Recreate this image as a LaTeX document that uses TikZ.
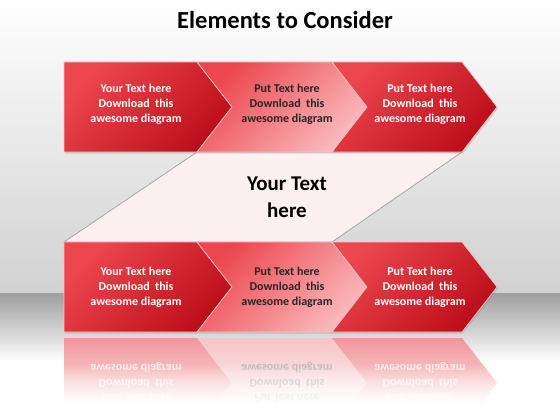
\documentclass[tikz,border=0pt]{standalone}
\usepackage{fontspec}
\setmainfont{Carlito}
\usetikzlibrary{shadows,fadings}

\definecolor{redlight}{RGB}{236,70,78}
\definecolor{reddark}{RGB}{188,14,26}
\definecolor{pinklight}{RGB}{250,186,188}
\definecolor{pinkband}{RGB}{252,240,241}
\definecolor{edgepink}{RGB}{246,196,198}
\definecolor{reflred}{RGB}{240,150,156}
\definecolor{reflpink}{RGB}{246,196,198}

\begin{document}
\begin{tikzpicture}[x=1pt, y=-1pt,
darkbox/.style={top color=redlight, bottom color=reddark, shading angle=45,
  draw=edgepink, line width=0.7pt,
  drop shadow={opacity=0.25, shadow xshift=1pt, shadow yshift=-1.5pt}},
lightbox/.style={top color=redlight, bottom color=pinklight, shading angle=45,
  draw=edgepink, line width=0.7pt,
  drop shadow={opacity=0.25, shadow xshift=1pt, shadow yshift=-1.5pt}},
darkrefl/.style={top color=reflred, bottom color=white},
lightrefl/.style={top color=reflpink, bottom color=white},
boxtext/.style={align=center, font=\fontsize{12}{15}\selectfont\bfseries, text=white},
darktext/.style={boxtext, text=black!85},
refltext/.style={boxtext, yscale=-1, transform shape, text=white, text opacity=0.75},
darkrefltext/.style={refltext, text=black!30},
]
\useasboundingbox (0,0) rectangle (560,420);

% background
\shade[top color=white, bottom color=black!18] (0,0) rectangle (560,293);
\shade[top color=black!38, bottom color=white] (0,293) rectangle (560,362);
\fill[white] (0,362) rectangle (560,420);

% title
\node (title) at (285,20) {\fontsize{24.5}{28}\selectfont\bfseries Elements to Consider};

% band between the rows
\path[fill=pinkband, draw=black!35, line width=0.8pt]
  (197,152) -- (462,152) -- (332,242) -- (64,242) -- cycle;
\node[align=center, font=\fontsize{21}{27}\selectfont\bfseries] (mid) at (287,197) {Your Text\\here};

% top row
\path[darkbox] (64,62) -- (197,62) -- (232,107) -- (197,152) -- (64,152) -- cycle;
\path[lightbox] (197,62) -- (332,62) -- (367,107) -- (332,152) -- (197,152) -- (232,107) -- cycle;
\path[darkbox] (332,62) -- (462,62) -- (497,107) -- (462,152) -- (332,152) -- (367,107) -- cycle;

\node[boxtext] (ta) at (136,104) {Your Text here\\Download\ \ this\\awesome diagram};
\node[darktext] (tb) at (287,104) {Put Text here\\Download\ \ this\\awesome diagram};
\node[boxtext] (tc) at (420,104) {Put Text here\\Download\ \ this\\awesome diagram};

% bottom row
\path[darkbox] (64,242) -- (197,242) -- (232,287) -- (197,332) -- (64,332) -- cycle;
\path[lightbox] (197,242) -- (332,242) -- (367,287) -- (332,332) -- (197,332) -- (232,287) -- cycle;
\path[darkbox] (332,242) -- (462,242) -- (497,287) -- (462,332) -- (332,332) -- (367,287) -- cycle;

\node[boxtext] (ba) at (136,287) {Your Text here\\Download\ \ this\\awesome diagram};
\node[darktext] (bb) at (287,287) {Put Text here\\Download\ \ this\\awesome diagram};
\node[boxtext] (bc) at (420,287) {Put Text here\\Download\ \ this\\awesome diagram};

% reflection
\shade[darkrefl] (64,338) -- (197,338) -- (232,383) -- (197,428) -- (64,428) -- cycle;
\shade[lightrefl] (197,338) -- (332,338) -- (367,383) -- (332,428) -- (197,428) -- (232,383) -- cycle;
\shade[darkrefl] (332,338) -- (462,338) -- (497,383) -- (462,428) -- (332,428) -- (367,383) -- cycle;

\node[refltext] (ra) at (136,383) {Your Text here\\Download\ \ this\\awesome diagram};
\node[darkrefltext] (rb) at (287,383) {Put Text here\\Download\ \ this\\awesome diagram};
\node[refltext] (rc) at (420,383) {Put Text here\\Download\ \ this\\awesome diagram};
\fill[white, path fading=north] (0,365) rectangle (560,405);
\fill[white] (0,405) rectangle (560,420);

\end{tikzpicture}
\end{document}
